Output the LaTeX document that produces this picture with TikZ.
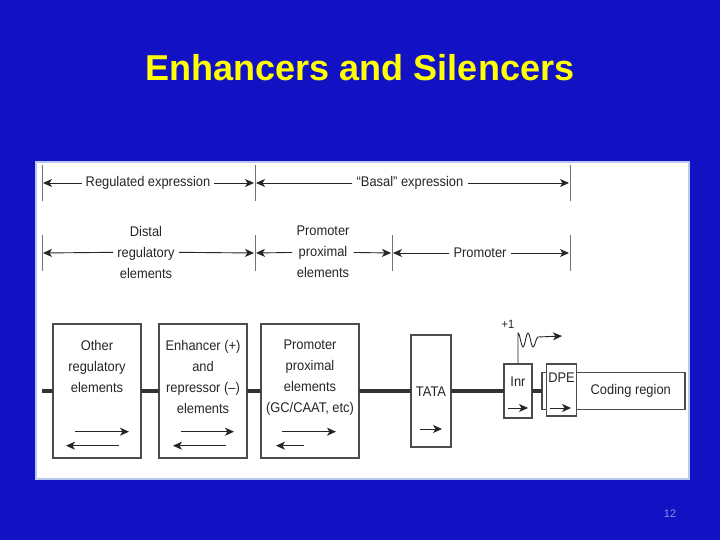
\documentclass[tikz,border=0pt]{standalone}
\usepackage{fontspec}
\setmainfont{Liberation Sans}
\newfontfamily\labelfont[FakeStretch=0.92]{Liberation Sans}
\usetikzlibrary{arrows.meta, positioning, calc}
\usepackage{xcolor}
\definecolor{slideblue}{RGB}{18,18,196}
\definecolor{titleyellow}{RGB}{255,255,0}
\definecolor{pagegray}{RGB}{140,140,225}
\definecolor{panelrim}{RGB}{185,200,240}

\tikzset{
  lbl/.style={font=\labelfont\fontsize{14}{21}\selectfont, text=black!85, align=center, inner sep=4pt},
  dimarrow/.style={->, draw=black!85, line width=0.9pt},
  tickline/.style={draw=black!55, line width=1pt},
  elembox/.style={draw=black!70, line width=1.5pt, fill=white, inner sep=0pt, outer sep=0pt},
  dna/.style={draw=black!80, line width=3.2pt},
  strand/.style={->, draw=black!85, line width=0.9pt},
}

\begin{document}
\begin{tikzpicture}[x=1pt, y=-1pt, >={Stealth[length=9pt,width=8pt,inset=2.5pt]}]
  \fill[slideblue] (0,0) rectangle (720,540);
  \useasboundingbox (0,0) rectangle (720,540);
  \node (title) at (360,68) [font=\bfseries\fontsize{36}{40}\selectfont, text=titleyellow] {Enhancers and Silencers};
  \node (pagenum) at (670,514) [font=\fontsize{11}{13}\selectfont, text=pagegray] {12};
  \draw[panelrim, line width=1.5pt, fill=white] (36,162) rectangle (689,479);

  % extent marks
  \foreach \x in {42,255,570} \draw[tickline] (\x,165) -- (\x,201);
  \foreach \x in {42,255,392,570} \draw[tickline] (\x,235) -- (\x,271);

  % top row
  \coordinate (r1a) at (43,183);
  \coordinate (r1b) at (254,183);
  \coordinate (r1c) at (256,183);
  \coordinate (r1d) at (569,183);
  \node[lbl] (regexp) at (148,183) {Regulated expression};
  \node[lbl] (basexp) at (410,183) {“Basal” expression};
  \draw[dimarrow] (regexp) -- (r1a);
  \draw[dimarrow] (regexp) -- (r1b);
  \draw[dimarrow] (basexp) -- (r1c);
  \draw[dimarrow] (basexp) -- (r1d);

  % second row
  \coordinate (r2a) at (43,253);
  \coordinate (r2b) at (254,253);
  \coordinate (r2c) at (256,253);
  \coordinate (r2d) at (391,253);
  \coordinate (r2e) at (393,253);
  \coordinate (r2f) at (569,253);
  \node[lbl] (distal) at (146,252) {Distal\\regulatory\\elements};
  \node[lbl] (ppelem) at (323,252) {Promoter\\proximal\\elements};
  \node[lbl] (promoter) at (480,253) {Promoter};
  \draw[dimarrow] (distal) -- (r2a);
  \draw[dimarrow] (distal) -- (r2b);
  \draw[dimarrow] (ppelem) -- (r2c);
  \draw[dimarrow] (ppelem) -- (r2d);
  \draw[dimarrow] (promoter) -- (r2e);
  \draw[dimarrow] (promoter) -- (r2f);

  % gene elements
  \coordinate (dnaL) at (42,391);
  \node[elembox, minimum width=88pt, minimum height=134pt] (other) at (97,391) {};
  \node[elembox, minimum width=88pt, minimum height=134pt, right=18pt of other] (enh) {};
  \node[elembox, minimum width=98pt, minimum height=134pt, right=14pt of enh] (ppbox) {};
  \node[elembox, minimum width=40pt, minimum height=112pt, right=52pt of ppbox] (tata) {};
  \node[elembox, minimum width=28pt, minimum height=54pt, right=53pt of tata] (inr) {};
  \node[elembox, minimum width=143pt, minimum height=37pt, right=10pt of inr] (coding) {};
  \node[elembox, minimum width=30pt, minimum height=52pt] (dpe) at ($(coding.west)+(19.5,-1)$) {};

  \draw[dna] (dnaL) -- (other.west);
  \draw[dna] (other) -- (enh);
  \draw[dna] (enh) -- (ppbox);
  \draw[dna] (ppbox) -- (tata);
  \draw[dna] (tata) -- (inr);
  \draw[dna] (inr.east) -- (coding.west);

  \node[lbl, anchor=north] (othertxt) at ($(other.north)+(0,12)$) {Other\\regulatory\\elements};
  \node[lbl, anchor=north] (enhtxt) at ($(enh.north)+(0,12)$) {Enhancer (+)\\and\\repressor (–)\\elements};
  \node[lbl, anchor=north] (pptxt) at ($(ppbox.north)+(0,12)$) {Promoter\\proximal\\elements\\(GC/CAAT, etc)};
  \node[lbl] (tatatxt) at ($(tata.center)+(0,1)$) {TATA};
  \node[lbl, inner sep=0pt] (inrtxt) at ($(inr.center)+(0,-9)$) {Inr};
  \node[lbl, inner sep=0pt] (dpetxt) at ($(dpe.center)+(0,-12)$) {DPE};
  \node[lbl] (codetxt) at ($(dpe.east)!0.5!(coding.east)$) {Coding region};

  % strand directions
  \draw[strand] ($(other.center)+(-22,40.7)$) -- ++(54,0);
  \draw[strand] ($(other.center)+(22,54.7)$) -- ++(-53,0);
  \draw[strand] ($(enh.center)+(-22,40.7)$) -- ++(53,0);
  \draw[strand] ($(enh.center)+(23,54.7)$) -- ++(-53,0);
  \draw[strand] ($(ppbox.center)+(-28,40.7)$) -- ++(54,0);
  \draw[strand] ($(ppbox.center)+(-6,54.7)$) -- ++(-28,0);
  \draw[strand] ($(tata.center)+(-11,38)$) -- ++(22,0);
  \draw[strand] ($(inr.center)+(-10,17)$) -- ++(20,0);
  \draw[strand] ($(dpe.center)+(-11.5,18)$) -- ++(21,0);

  % transcription start
  \coordinate (tss) at ($(inr.north)+(0,-31)$);
  \coordinate (tsend) at (562,336);
  \node[lbl, font=\labelfont\fontsize{12}{14}\selectfont, inner sep=0pt] (plusone) at (508,324) {+1};
  \draw[strand] (inr.north) -- (tss)
    cos ++(2.5,7) sin ++(2.5,7) cos ++(2.5,-7) sin ++(2.5,-7)
    cos ++(2.5,7) sin ++(2.5,7) cos ++(2.5,-5) sin ++(2.5,-5) -- (tsend);
\end{tikzpicture}
\end{document}
